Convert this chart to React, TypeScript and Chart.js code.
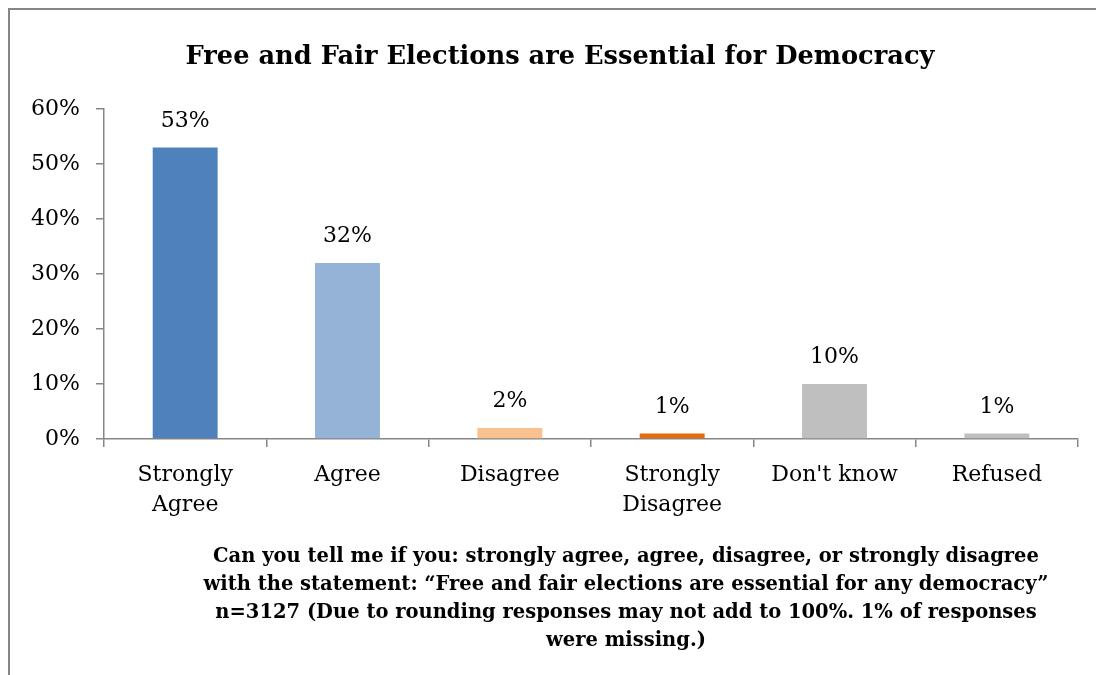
import React, { useEffect, useRef } from 'react';
import { Chart, registerables } from 'chart.js';

Chart.register(...registerables);

const categories: string[][] = [
  ['Strongly', 'Agree'],
  ['Agree'],
  ['Disagree'],
  ['Strongly', 'Disagree'],
  ["Don't know"],
  ['Refused'],
];
const values: number[] = [53, 32, 2, 1, 10, 1];
const barColors: string[] = ['#4F81BD', '#95B3D7', '#FAC090', '#E46C0A', '#BFBFBF', '#BFBFBF'];
const yMax = 60;
const yStep = 10;
const titleText = 'Free and Fair Elections are Essential for Democracy';
const noteLines: string[] = [
  'Can you tell me if you: strongly agree, agree, disagree, or strongly disagree',
  'with the statement: \u201CFree and fair elections are essential for any democracy\u201D',
  'n=3127 (Due to rounding responses may not add to 100%. 1% of responses',
  'were missing.)',
];

const AXIS = '#868686';
const SERIF = "'DejaVu Serif', serif";

export default function App() {
  const ref = useRef<HTMLCanvasElement | null>(null);

  useEffect(() => {
    document.documentElement.style.overflow = 'hidden';
    const canvas = ref.current;
    if (!canvas) return;

    const labelPlugin = {
      id: 'valueLabels',
      afterDatasetsDraw(chart: any) {
        const ctx = chart.ctx;
        const meta = chart.getDatasetMeta(0);
        ctx.save();
        ctx.fillStyle = '#000';
        ctx.font = `22px ${SERIF}`;
        ctx.textAlign = 'center';
        ctx.textBaseline = 'alphabetic';
        meta.data.forEach((bar: any, i: number) => {
          ctx.fillText(`${values[i]}%`, bar.x, bar.y - 21);
        });
        ctx.restore();
      },
    };

    const textPlugin = {
      id: 'titleNote',
      afterDraw(chart: any) {
        const ctx = chart.ctx;
        ctx.save();
        ctx.fillStyle = '#000';
        ctx.textAlign = 'center';
        ctx.textBaseline = 'alphabetic';
        ctx.font = `bold 25.7px ${SERIF}`;
        ctx.fillText(titleText, 550, 54);
        ctx.font = `bold 19.5px ${SERIF}`;
        noteLines.forEach((line, i) => {
          ctx.fillText(line, 616, 552 + i * 28);
        });
        ctx.restore();
      },
    };

    const chart = new Chart(canvas, {
      type: 'bar',
      data: {
        labels: categories as any,
        datasets: [
          {
            data: values,
            backgroundColor: barColors,
            borderWidth: 0,
            categoryPercentage: 1,
            barPercentage: 0.4,
          },
        ],
      },
      options: {
        responsive: false,
        animation: false,
        devicePixelRatio: 1,
        layout: { padding: { top: 99, right: 26, left: 0, bottom: 0 } },
        plugins: {
          legend: { display: false },
          title: { display: false },
          tooltip: { enabled: false },
        },
        scales: {
          x: {
            offset: true,
            grid: {
              display: true,
              drawOnChartArea: false,
              drawTicks: true,
              tickLength: 8,
              color: AXIS,
              lineWidth: 1.5,
            },
            border: { display: true, color: AXIS, width: 1.5 },
            ticks: {
              color: '#000',
              font: { family: SERIF, size: 22, lineHeight: 30 / 22 },
              padding: 13,
              maxRotation: 0,
              autoSkip: false,
            },
            afterFit(scale: any) {
              scale.height = 236;
            },
          },
          y: {
            min: 0,
            max: yMax,
            grid: {
              display: true,
              drawOnChartArea: false,
              drawTicks: true,
              tickLength: 8,
              color: AXIS,
              lineWidth: 1.5,
            },
            border: { display: true, color: AXIS, width: 1.5 },
            ticks: {
              stepSize: yStep,
              color: '#000',
              font: { family: SERIF, size: 22 },
              padding: 16,
              callback: (v: any) => `${v}%`,
            },
            afterFit(scale: any) {
              scale.width = 94;
            },
          },
        },
      },
      plugins: [labelPlugin, textPlugin],
    });

    return () => chart.destroy();
  }, []);

  return (
    <div
      style={{
        width: 1096,
        height: 667,
        boxSizing: 'border-box',
        borderLeft: `2px solid ${AXIS}`,
        borderTop: `2px solid ${AXIS}`,
        background: '#fff',
      }}
    >
      <canvas ref={ref} width={1094} height={665} style={{ display: 'block' }} />
    </div>
  );
}
